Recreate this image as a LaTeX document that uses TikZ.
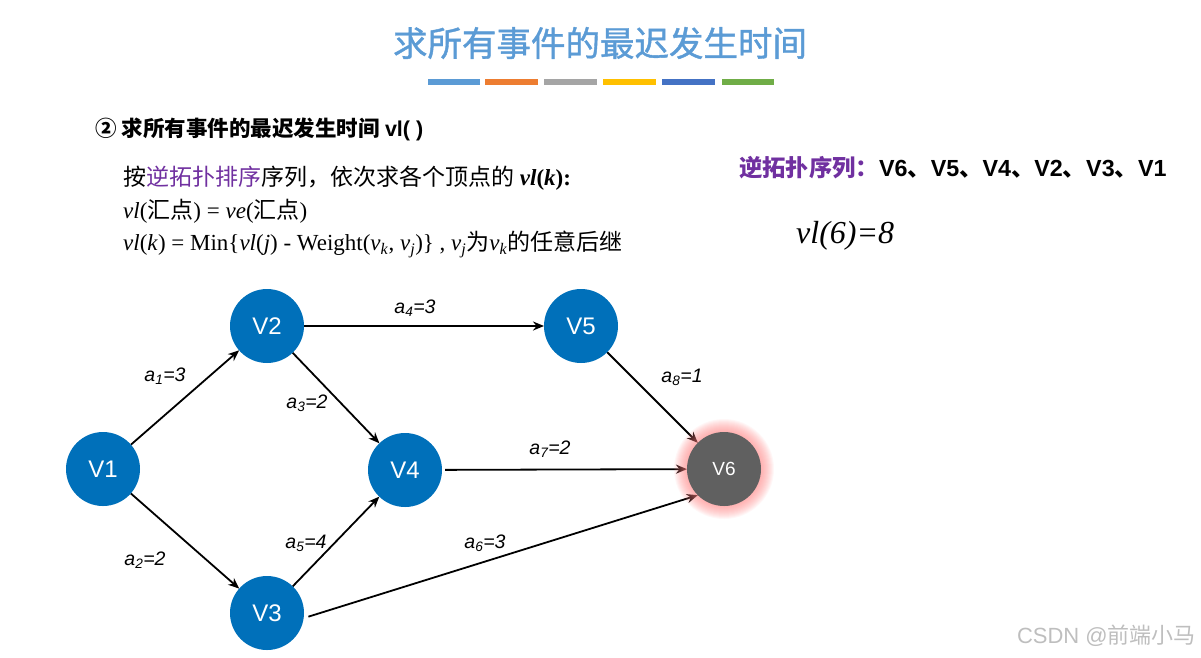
\documentclass[tikz,border=0pt]{standalone}
\usepackage{fontspec}
\setmainfont{Liberation Serif}
\setsansfont{Liberation Sans}
\newfontfamily\cjk{Noto Sans CJK SC}
\newfontfamily\cjkfb{Noto Sans CJK SC}[FakeBold=1.2]
\usetikzlibrary{arrows.meta}
\definecolor{titleblue}{RGB}{91,155,213}
\definecolor{barA}{RGB}{91,155,213}
\definecolor{barB}{RGB}{237,125,49}
\definecolor{barC}{RGB}{165,165,165}
\definecolor{barD}{RGB}{255,192,0}
\definecolor{barE}{RGB}{68,114,196}
\definecolor{barF}{RGB}{112,173,71}
\definecolor{purp}{RGB}{112,48,160}
\definecolor{nodeblue}{RGB}{0,112,186}
\definecolor{nodegray}{RGB}{96,96,96}
\definecolor{wmgray}{RGB}{190,190,190}
\pgfdeclarelayer{edges}
\pgfdeclarelayer{glow}
\pgfsetlayers{edges,glow,main}
\newcommand{\fsz}[1]{\fontsize{#1}{#1}\selectfont}
\begin{document}
\begin{tikzpicture}[x=1pt,y=-1pt,
  vert/.style={circle, fill=nodeblue, minimum size=74pt, inner sep=0pt, outer sep=0pt, text=white, font=\sffamily\fsz{24}},
  arr/.style={-{Stealth[length=11pt,width=9pt]}, line width=1.8pt, black},
  lbl/.style={font=\sffamily\itshape\fsz{19.5}, inner sep=1pt},
  txt/.style={anchor=base west, inner sep=0pt, font=\fsz{23}}
]
\useasboundingbox (0,0) rectangle (1201,657);

% title
\node[inner sep=0pt, text=titleblue, font=\cjkfb\fsz{34.5}] (title) at (600,43) {求所有事件的最迟发生时间};
\fill[barA] (428,79) rectangle (480,85);
\fill[barB] (485,79) rectangle (538,85);
\fill[barC] (544,79) rectangle (597,85);
\fill[barD] (603,79) rectangle (656,85);
\fill[barE] (662,79) rectangle (715,85);
\fill[barF] (722,79) rectangle (774,85);

% header and formulas
\node[txt, font=\fsz{21.5}] (hdr) at (95,136) {{\cjk\bfseries ② 求所有事件的最迟发生时间} {\sffamily\bfseries vl( )}};
\node[txt] (l1) at (123,185.5) {{\cjk 按\textcolor{purp}{逆拓扑排序}序列，依次求各个顶点的} \textbf{\textit{vl}(\textit{k}):}};
\node[txt] (l2) at (123,218) {\textit{vl}({\cjk 汇点}) = \textit{ve}({\cjk 汇点})};
\node[txt] (l3) at (123,250.5) {\textit{vl}(\textit{k}) = Min\{\textit{vl}(\textit{j}) - Weight(\textit{v}\textsubscript{\textit{k}}, \textit{v}\textsubscript{\textit{j}})\} , \textit{v}\textsubscript{\textit{j}}{\cjk 为}\textit{v}\textsubscript{\textit{k}}{\cjk 的任意后继}};

\node[txt, font=\fsz{23.3}] (seq) at (739,176) {{\cjk\bfseries\color{purp}逆拓扑序列：}{\sffamily\bfseries V6{\cjk 、}V5{\cjk 、}V4{\cjk 、}V2{\cjk 、}V3{\cjk 、}V1}};
\node[txt, font=\itshape\fsz{32}] (res) at (796,243) {vl(6)=8};

% vertices
\node[vert] (V1) at (103,469) {V1};
\node[vert] (V2) at (267,326) {V2};
\node[vert] (V3) at (267,613) {V3};
\node[vert] (V4) at (405,470) {V4};
\node[vert] (V5) at (581,326) {V5};
\node[vert, fill=nodegray, font=\sffamily\fsz{19}] (V6) at (724,469) {V6};
\begin{pgfonlayer}{glow}
\foreach \r in {38,39,...,50}
  \fill[red!50, opacity=0.065] (V6.center) circle (\r pt);
\end{pgfonlayer}

% edges
\begin{pgfonlayer}{edges}
\draw[arr] (V1) -- (V2);
\draw[arr] (V1) -- (V3);
\draw[arr] (V2) -- (V4);
\draw[arr] (V3) -- (V4);
\draw[arr] (V2) -- (V5);
\draw[arr] (V5) -- (V6);
\draw[arr, shorten <=3pt] (V4) -- (V6);
\draw[arr, shorten <=5pt] (V3.-8) -- (V6.225);
\end{pgfonlayer}

% edge labels
\node[lbl] (la1) at (165,376) {a\textsubscript{1}=3};
\node[lbl] (la2) at (145,560) {a\textsubscript{2}=2};
\node[lbl] (la3) at (307,403) {a\textsubscript{3}=2};
\node[lbl] (la4) at (415,308) {a\textsubscript{4}=3};
\node[lbl] (la5) at (306,543) {a\textsubscript{5}=4};
\node[lbl] (la6) at (485,543) {a\textsubscript{6}=3};
\node[lbl] (la7) at (550,449) {a\textsubscript{7}=2};
\node[lbl] (la8) at (682,377) {a\textsubscript{8}=1};

% watermark
\node[anchor=east, inner sep=0pt, text=wmgray, font=\sffamily\fsz{22}] (wm) at (1196,636) {CSDN @{\cjk 前端小马}};
\end{tikzpicture}
\end{document}
